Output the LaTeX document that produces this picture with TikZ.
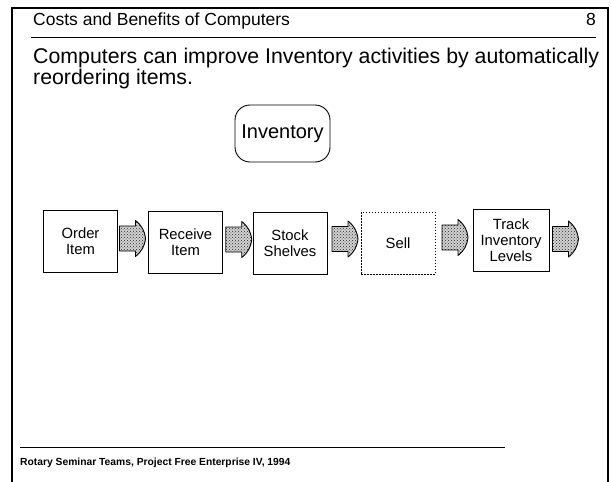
\documentclass[tikz,border=0pt]{standalone}
\usepackage{fontspec}
\setmainfont{Liberation Sans}
\usetikzlibrary{patterns,calc}
\begin{document}
\begin{tikzpicture}[x=1pt,y=-1pt,
  stepbox/.style={draw, line width=0.9pt, minimum width=74pt, minimum height=62pt,
    align=center, inner sep=0pt, font=\fontsize{14.8}{16}\selectfont},
  flowarrow/.style={draw, line width=0.9pt, line join=round,
    preaction={fill=gray!35}, pattern=crosshatch dots, pattern color=black!85},
  rulestyle/.style={line width=1pt}]
\useasboundingbox (0,0) rectangle (611,482);

% slide frame
\draw[line width=1.4pt] (12,492) -- (12,8) -- (608,8) -- (608,492);

% header
\node[anchor=base west, inner sep=0pt, font=\fontsize{17.5}{20}\selectfont] (title) at (33,25) {Costs and Benefits of Computers};
\node[anchor=base east, inner sep=0pt, font=\fontsize{17.5}{20}\selectfont] (pagenum) at (596,25) {8};
\draw[rulestyle] (31,37) -- (596,37);

% lead text
\node[anchor=base west, inner sep=0pt, font=\fontsize{21.3}{22}\selectfont] (lead1) at (33,63) {Computers can improve Inventory activities by automatically};
\node[anchor=base west, inner sep=0pt, font=\fontsize{21.3}{22}\selectfont] (lead2) at (33,84) {reordering items.};

% the activity being improved
\node[draw, line width=0.9pt, rounded corners=15pt, minimum width=95pt, minimum height=57pt,
  inner sep=0pt, font=\fontsize{20}{22}\selectfont] (inventory) at (282.5,133.5) {Inventory};

% process steps
\node[stepbox] (order)   at (80.5,241) {Order\\Item};
\node[stepbox] (receive) at (185.5,242) {Receive\\Item};
\node[stepbox] (stock)   at (290,243) {Stock\\Shelves};
\node[stepbox, dash pattern=on 1.5pt off 1.5pt] (sell) at (398,243) {Sell};
\node[stepbox, minimum width=76pt] (track) at (511,240) {Track\\Inventory\\Levels};

% block arrows between the steps: square tail, flanged rounded head
\newcommand\flowarrow[1]{%
  \draw[flowarrow] ($(#1)+(-13,-12.5)$) -- ++(16,0) -- ++(0,-5.5)
    to[bend left=22] ++(10,18) to[bend left=22] ++(-10,18)
    -- ++(0,-5.5) -- ++(-16,0) -- cycle;}
\coordinate (a1) at ($(order.east)!0.5!(receive.west)+(-0.5,-3)$);
\coordinate (a2) at ($(receive.east)!0.5!(stock.west)+(1,-3)$);
\coordinate (a3) at ($(stock.east)!0.5!(sell.west)+(1,-4)$);
\coordinate (a4) at ($(sell.east)!0.5!(track.west)+(1,-4)$);
\coordinate (a5) at ($(track.east)+(16,-1)$);
\flowarrow{a1}
\flowarrow{a2}
\flowarrow{a3}
\flowarrow{a4}
\flowarrow{a5}

% footer
\draw[rulestyle] (20,447) -- (505,447);
\node[anchor=base west, inner sep=0pt, font=\bfseries\fontsize{10.3}{12}\selectfont] (source) at (20,465) {Rotary Seminar Teams, Project Free Enterprise IV, 1994};
\end{tikzpicture}
\end{document}
